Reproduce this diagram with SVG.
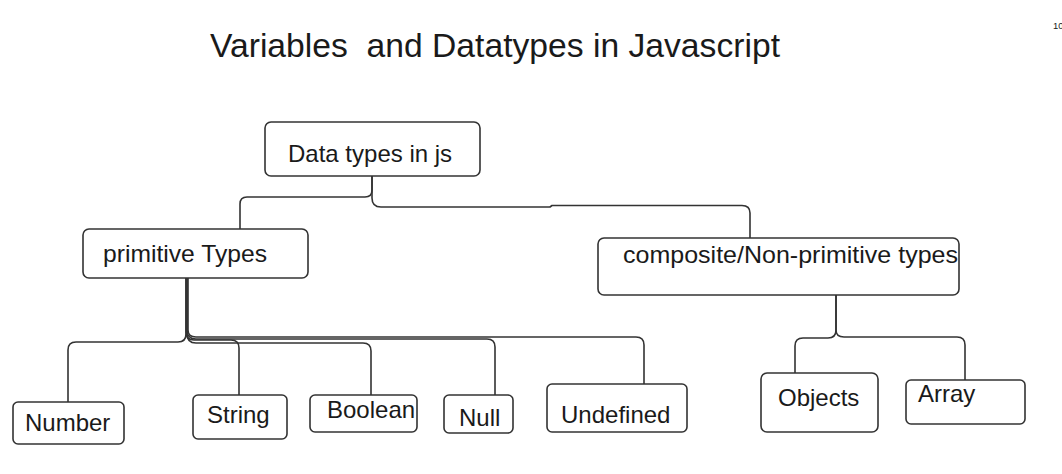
<svg xmlns="http://www.w3.org/2000/svg" width="1062" height="474" viewBox="0 0 1062 474">
<style>
.box{fill:#fff;stroke:#333;stroke-width:1.6}
.lbl{font-family:"Liberation Sans",Arial,sans-serif;font-size:24px;fill:#1a1a1a}
.conn path{fill:none;stroke:#333;stroke-width:1.6;stroke-linejoin:round}
</style>
<rect width="1062" height="474" fill="#fff"/>
<text x="210" y="57" xml:space="preserve" textLength="570" lengthAdjust="spacingAndGlyphs" style="font-family:'Liberation Sans',Arial,sans-serif;font-size:33px;fill:#1a1a1a">Variables  and Datatypes in Javascript</text>
<text x="1053" y="29" style="font-family:'Liberation Sans',Arial,sans-serif;font-size:9.5px;fill:#1a1a1a">10</text>
<g class="conn" id="connectors">
<path d="M372,176 V190 Q372,197 365,197 H247 Q240,197 240,204 V229"/>
<path d="M372,176 V198 Q372,207 381,207 H550 L552,205.5 H742 Q750,205.5 750,213 V238"/>
<path d="M836,295 V330 Q836,338 828,338 H803 Q795,338 795,346 V382"/>
<path d="M836,295 V330 Q836,337 844,337 H957 Q965,337 965,345 V380"/>
<path d="M186,278 V334 Q186,342 178,342 H76 Q68,342 68,350 V403"/>
<path d="M186,278 V332 Q186,340 194,340 H231 Q239,340 239,348 V398"/>
<path d="M187,278 V334 Q187,343 196,343 H363 Q371,343 371,351 V395"/>
<path d="M187,278 V330 Q187,339 196,339 H487 Q495,339 495,347 V400"/>
<path d="M188,278 V330 Q188,337 196,337 H636 Q644,337 644,345 V398"/>
</g>
<g id="n-datatypes"><rect class="box" x="265" y="122" width="215" height="54" rx="6"/><text class="lbl" x="288" y="162">Data types in js</text></g>
<g id="n-primitive"><rect class="box" x="83" y="229" width="225" height="49" rx="6"/><text class="lbl" x="103" y="262" textLength="164" lengthAdjust="spacingAndGlyphs">primitive Types</text></g>
<g id="n-composite"><rect class="box" x="598" y="238" width="361" height="57" rx="6"/><text class="lbl" x="623" y="263" textLength="335" lengthAdjust="spacingAndGlyphs">composite/Non-primitive types</text></g>
<g id="n-number"><rect class="box" x="13" y="402" width="111" height="42" rx="5"/><text class="lbl" x="25" y="431">Number</text></g>
<g id="n-string"><rect class="box" x="193" y="395" width="94" height="44" rx="5"/><text class="lbl" x="207" y="423">String</text></g>
<g id="n-boolean"><rect class="box" x="310" y="395" width="107" height="37" rx="5"/><text class="lbl" x="327" y="418">Boolean</text></g>
<g id="n-null"><rect class="box" x="444" y="395" width="69" height="38" rx="5"/><text class="lbl" x="459" y="426">Null</text></g>
<g id="n-undefined"><rect class="box" x="547" y="384" width="140" height="48" rx="5"/><text class="lbl" x="561" y="423">Undefined</text></g>
<g id="n-objects"><rect class="box" x="761" y="373" width="117" height="59" rx="6"/><text class="lbl" x="778" y="406">Objects</text></g>
<g id="n-array"><rect class="box" x="906" y="380" width="119" height="44" rx="5"/><text class="lbl" x="918" y="402">Array</text></g>
</svg>
